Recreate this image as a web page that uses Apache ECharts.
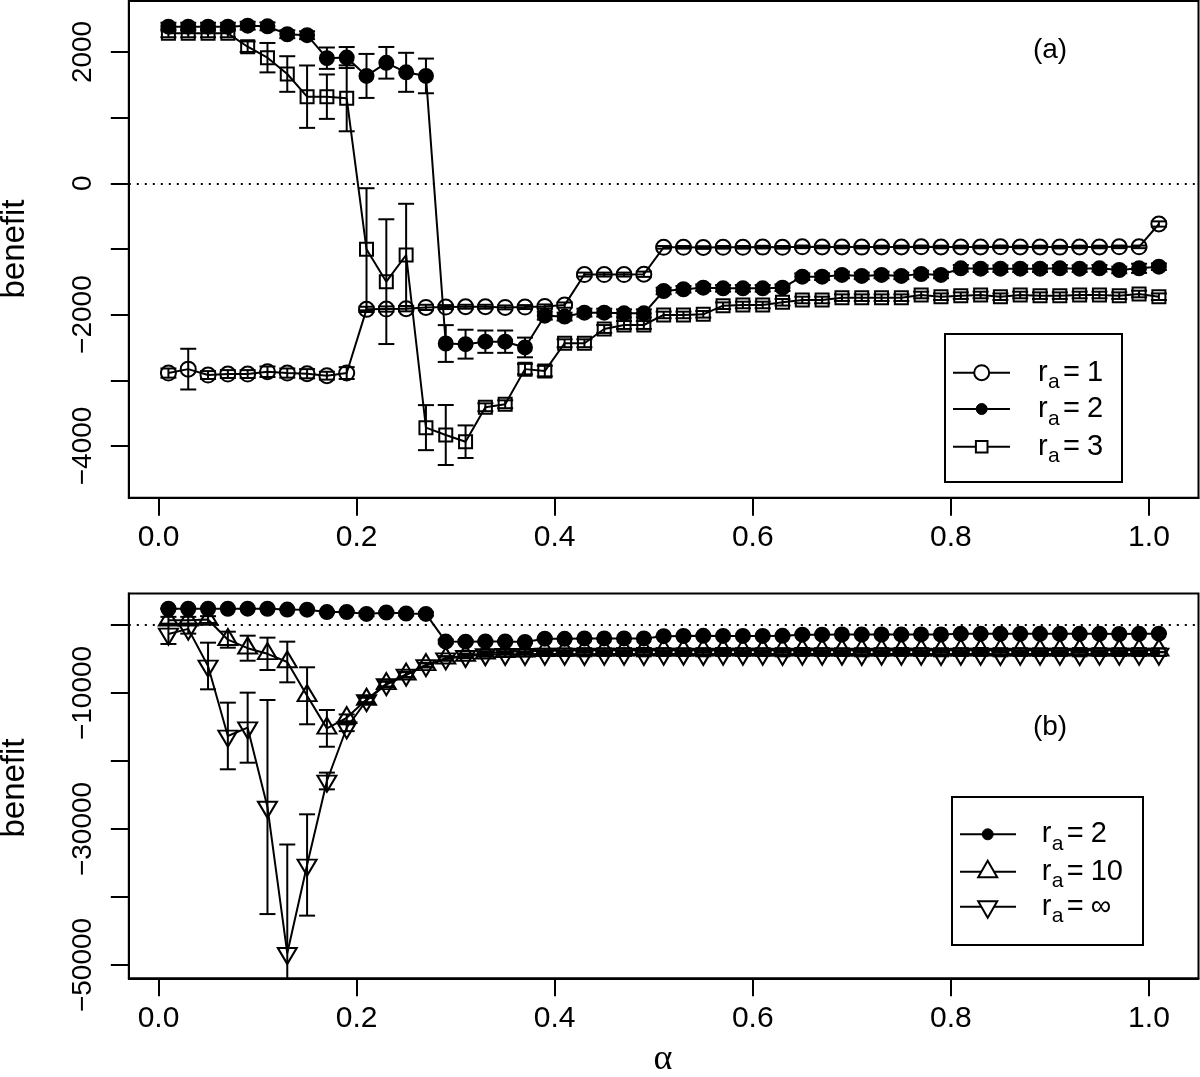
<!DOCTYPE html>
<html>
<head>
<meta charset="utf-8">
<script src="https://cdn.jsdelivr.net/npm/echarts@6/dist/echarts.min.js"></script>
<style>
html,body{margin:0;padding:0;background:#fff;}
#chart{width:1200px;height:1077px;}
</style>
</head>
<body>
<div id="chart"></div>
<script>
// ---------------- DATA ----------------
const alpha = [0.01,0.03,0.05,0.07,0.09,0.11,0.13,0.15,0.17,0.19,
  0.21,0.23,0.25,0.27,0.29,0.31,0.33,0.35,0.37,0.39,
  0.41,0.43,0.45,0.47,0.49,0.51,0.53,0.55,0.57,0.59,
  0.61,0.63,0.65,0.67,0.69,0.71,0.73,0.75,0.77,0.79,
  0.81,0.83,0.85,0.87,0.89,0.91,0.93,0.95,0.97,0.99,1.01];

// panel (a)
const r1 = [-2890,-2830,-2920,-2905,-2905,-2870,-2890,-2900,-2930,-2890,
  -1920,-1915,-1910,-1890,-1885,-1880,-1880,-1890,-1885,-1875,
  -1855,-1390,-1390,-1390,-1385,-975,-975,-978,-975,-975,
  -972,-975,-968,-970,-970,-972,-970,-970,-968,-970,
  -970,-970,-968,-970,-970,-972,-970,-970,-968,-968,-620];
const r1Err = [70,310,60,60,60,80,70,70,60,90,
  40,40,40,40,30,30,30,30,30,30,
  40,30,30,30,40,20,20,20,20,20,
  20,20,20,20,20,20,20,20,20,20,
  20,20,20,20,20,20,20,20,20,20,40];

const r2 = [2385,2385,2385,2385,2400,2390,2270,2255,1905,1915,
  1635,1835,1690,1635,-2440,-2450,-2412,-2412,-2500,-2016,
  -2030,-1970,-1970,-1980,-1980,-1640,-1614,-1590,-1600,-1600,
  -1600,-1590,-1422,-1422,-1396,-1410,-1396,-1410,-1381,-1396,
  -1295,-1300,-1300,-1300,-1300,-1295,-1300,-1295,-1320,-1295,-1270];
const r2Err = [60,60,60,60,60,60,60,60,163,160,
  335,241,297,264,280,220,170,170,150,60,
  60,60,60,60,60,50,50,50,50,50,
  50,50,50,50,50,50,50,50,50,50,
  50,50,50,50,50,50,50,50,50,70,50];

const r3 = [2284,2284,2284,2284,2080,1913,1664,1319,1319,1294,
  -1005,-1498,-1092,-3721,-3833,-3935,-3411,-3365,-2830,-2860,
  -2436,-2436,-2219,-2158,-2158,-2005,-2005,-1995,-1864,-1853,
  -1853,-1812,-1777,-1777,-1742,-1742,-1742,-1742,-1701,-1727,
  -1711,-1701,-1727,-1701,-1711,-1711,-1701,-1701,-1711,-1686,-1727];
const r3Err = [60,60,60,60,80,224,271,475,338,502,
  930,950,780,343,457,248,60,60,80,80,
  60,60,60,60,60,50,50,50,50,50,
  50,50,50,50,50,50,50,50,50,50,
  50,50,50,50,50,50,50,50,50,50,50];

// panel (b)  (r_a = 2 is the same series as in panel (a))
const r10 = [700,700,800,-2160,-3410,-4240,-5440,-10410,-15200,-13650,
  -10950,-8650,-7250,-5850,-4880,-4500,-4150,-3950,-3850,-3800,
  -3750,-3700,-3720,-3700,-3680,-3700,-3720,-3700,-3690,-3700,
  -3710,-3700,-3680,-3700,-3720,-3700,-3700,-3690,-3700,-3710,
  -3700,-3680,-3700,-3700,-3720,-3700,-3690,-3700,-3710,-3700,-3720];
const r10Err = [500,500,500,1176,1840,2380,2990,4190,2700,500,
  400,400,400,300,300,300,300,300,300,300,
  300,300,300,300,300,300,300,300,300,300,
  300,300,300,300,300,300,300,300,300,300,
  300,300,300,300,300,300,300,300,300,300,300];

const rInf = [-1320,-570,-6030,-16320,-15100,-26770,-48280,-35290,-22940,-15110,
  -11100,-8750,-7350,-5950,-4950,-4600,-4350,-4300,-4300,-4250,
  -4250,-4300,-4250,-4250,-4300,-4250,-4250,-4300,-4250,-4250,
  -4250,-4300,-4250,-4250,-4250,-4300,-4250,-4250,-4250,-4300,
  -4250,-4250,-4300,-4250,-4250,-4250,-4300,-4250,-4250,-4250,-4250];
const rInfErr = [1470,700,3430,4900,5150,15740,16000,7450,1230,500,
  400,400,400,300,300,300,300,300,300,300,
  300,300,300,300,300,300,300,300,300,300,
  300,300,300,300,300,300,300,300,300,300,
  300,300,300,300,300,300,300,300,300,300,300];

const xTicks = [0, 0.2, 0.4, 0.6, 0.8, 1.0];
const yTicksA = [-4000,-3000,-2000,-1000,0,1000,2000];
const yLabelsA = [-4000,-2000,0,2000];
const yTicksB = [-50000,-40000,-30000,-20000,-10000,0];
const yLabelsB = [-50000,-30000,-10000];

// ---------------- CHART ----------------
const FONT = "'Liberation Sans', Arial, Helvetica, sans-serif";
const chart = echarts.init(document.getElementById('chart'), null, {renderer:'canvas'});

const pts = (ys) => alpha.map((a,i)=>[a, ys[i]]);
const bars = (ys, es) => alpha.map((a,i)=>[a, ys[i]-es[i], ys[i]+es[i]]);
const minusFmt = v => (v < 0 ? '\u2212' + Math.abs(v) : String(v));

function errRender(params, api){
  const x = api.value(0), lo = api.value(1), hi = api.value(2);
  const cs = params.coordSys;
  const pTop = api.coord([x, hi]), pBot = api.coord([x, lo]);
  const yMin = cs.y, yMax = cs.y + cs.height;
  const ty = Math.max(pTop[1], yMin), by = Math.min(pBot[1], yMax);
  const st = {stroke:'#000', lineWidth:2};
  const ch = [{type:'line', shape:{x1:pTop[0], y1:ty, x2:pTop[0], y2:by}, style:st}];
  const hw = 8;
  if (pTop[1] >= yMin) ch.push({type:'line', shape:{x1:pTop[0]-hw, y1:pTop[1], x2:pTop[0]+hw, y2:pTop[1]}, style:st});
  if (pBot[1] <= yMax) ch.push({type:'line', shape:{x1:pBot[0]-hw, y1:pBot[1], x2:pBot[0]+hw, y2:pBot[1]}, style:st});
  return {type:'group', children: ch};
}

function errSeries(ys, es, gi){
  return {type:'custom', xAxisIndex:gi, yAxisIndex:gi, data: bars(ys, es),
    renderItem: errRender, encode:{x:0, y:[1,2]}, silent:true, z:3};
}

function lineSeries(ys, gi, symbol, size, filled, extra){
  return Object.assign({
    type:'line', xAxisIndex:gi, yAxisIndex:gi, data: pts(ys),
    symbol: symbol, symbolSize: size, showSymbol:true, showAllSymbol:true,
    lineStyle:{color:'#000', width:2},
    itemStyle:{color: filled ? '#000' : 'rgba(0,0,0,0)', borderColor:'#000', borderWidth:2},
    emphasis:{disabled:true}, silent:true, z:4
  }, extra || {});
}

const zeroLine = {silent:true, symbol:['none','none'], label:{show:false},
  lineStyle:{color:'#000', type:[2,6], width:2}, data:[{yAxis:0}], animation:false};

function xAxisDef(gi){
  return {type:'value', gridIndex:gi, min:-0.03, max:1.05,
    axisLine:{show:true, onZero:false, lineStyle:{color:'#000', width:2}},
    axisTick:{show:true, customValues: xTicks, length:18, lineStyle:{color:'#000', width:2}},
    axisLabel:{show:true, customValues: xTicks, formatter: v => v.toFixed(1), color:'#000',
      fontFamily: FONT, fontSize:30, margin:25},
    splitLine:{show:false}};
}
function yAxisDef(gi, min, max, ticks, labels){
  return {type:'value', gridIndex:gi, min:min, max:max,
    axisLine:{show:true, onZero:false, lineStyle:{color:'#000', width:2}},
    axisTick:{show:true, customValues: ticks, length:18, lineStyle:{color:'#000', width:2}},
    axisLabel:{show:true, customValues: labels, formatter: minusFmt, rotate:90, color:'#000',
      fontFamily: FONT, fontSize:28, margin:32},
    splitLine:{show:false}};
}

const option = {
  animation:false,
  backgroundColor:'#fff',
  grid:[
    {left:128.8, top:1, width:1069.7, height:496.7, show:true, borderColor:'#000', borderWidth:2},
    {left:128.8, top:593.5, width:1069.7, height:384.8, show:true, borderColor:'#000', borderWidth:2}
  ],
  xAxis:[xAxisDef(0), xAxisDef(1)],
  yAxis:[yAxisDef(0, -4788, 2776, yTicksA, yLabelsA), yAxisDef(1, -51956, 4632, yTicksB, yLabelsB)],
  series:[
    // panel (a)
    errSeries(r1, r1Err, 0), errSeries(r2, r2Err, 0), errSeries(r3, r3Err, 0),
    lineSeries(r1, 0, 'circle', 15, false, {markLine: zeroLine}),
    lineSeries(r2, 0, 'circle', 14, true),
    lineSeries(r3, 0, 'rect', 13, false),
    // panel (b)
    errSeries(r2, r2Err, 1), errSeries(r10, r10Err, 1), errSeries(rInf, rInfErr, 1),
    lineSeries(r2, 1, 'circle', 14, true, {markLine: zeroLine}),
    lineSeries(r10, 1, 'triangle', [19,16], false, {symbolOffset:[0,-2.7]}),
    lineSeries(rInf, 1, 'triangle', [19,16], false, {symbolRotate:180, symbolOffset:[0,2.7]})
  ],
  graphic: buildGraphics()
};

function txt(x, y, s, size, align){
  return {type:'text', x:x, y:y, z:22, silent:true,
    style:{text:s, fontFamily:FONT, fontSize:size, fill:'#000', align:align || 'left', verticalAlign:'middle'}};
}
function legendText(x, y, val){
  return [txt(x, y, 'r', 29), txt(x + 10, y + 10, 'a', 21), txt(x + 25, y, '=', 29), txt(x + 49, y, val, 29)];
}
function hline(x1, x2, y){
  return {type:'line', z:20, silent:true, shape:{x1:x1, y1:y, x2:x2, y2:y}, style:{stroke:'#000', lineWidth:2}};
}
function triUp(cx, cy, r){
  const w = r*Math.sqrt(3)/2;
  return {type:'polygon', z:21, silent:true, shape:{points:[[cx, cy-r],[cx+w, cy+r/2],[cx-w, cy+r/2]]}, style:{fill:'#fff', stroke:'#000', lineWidth:2}};
}
function triDown(cx, cy, r){
  const w = r*Math.sqrt(3)/2;
  return {type:'polygon', z:21, silent:true, shape:{points:[[cx, cy+r],[cx+w, cy-r/2],[cx-w, cy-r/2]]}, style:{fill:'#fff', stroke:'#000', lineWidth:2}};
}

function buildGraphics(){
  let g = [];
  // panel labels
  g.push(txt(1050, 50, '(a)', 28, 'center'));
  g.push(txt(1050, 727, '(b)', 28, 'center'));
  // axis titles
  g.push({type:'text', x:15, y:249, rotation:Math.PI/2, z:20, silent:true, style:{text:'benefit', fontFamily:FONT, fontSize:33, fill:'#000', align:'center', verticalAlign:'middle'}});
  g.push({type:'text', x:15, y:788, rotation:Math.PI/2, z:20, silent:true, style:{text:'benefit', fontFamily:FONT, fontSize:33, fill:'#000', align:'center', verticalAlign:'middle'}});
  g.push({type:'text', x:663, y:1060, z:20, silent:true, style:{text:'\u03b1', fontFamily:"'Liberation Serif', 'DejaVu Serif', serif", fontSize:36, fill:'#000', align:'center', verticalAlign:'middle'}});

  // legend (a)
  g.push({type:'rect', z:19, silent:true, shape:{x:945, y:334, width:177, height:148}, style:{fill:'#fff', stroke:'#000', lineWidth:2}});
  const rowsA = [372.7, 409, 446.7];
  rowsA.forEach(y => g.push(hline(953, 1010, y)));
  g.push({type:'circle', z:21, silent:true, shape:{cx:981.7, cy:rowsA[0], r:7.5}, style:{fill:'#fff', stroke:'#000', lineWidth:2}});
  g.push({type:'circle', z:21, silent:true, shape:{cx:981.7, cy:rowsA[1], r:5.5}, style:{fill:'#000', stroke:'#000', lineWidth:1}});
  g.push({type:'rect', z:21, silent:true, shape:{x:975.9, y:rowsA[2]-5.8, width:11.6, height:11.6}, style:{fill:'#fff', stroke:'#000', lineWidth:2}});
  g = g.concat(legendText(1038, rowsA[0], '1'), legendText(1038, rowsA[1], '2'), legendText(1038, rowsA[2], '3'));

  // legend (b)
  g.push({type:'rect', z:19, silent:true, shape:{x:952, y:797, width:191, height:148}, style:{fill:'#fff', stroke:'#000', lineWidth:2}});
  const rowsB = [834.3, 871.7, 906.7];
  rowsB.forEach(y => g.push(hline(960, 1016, y)));
  g.push({type:'circle', z:21, silent:true, shape:{cx:987.7, cy:rowsB[0], r:5.5}, style:{fill:'#000', stroke:'#000', lineWidth:1}});
  g.push(triUp(987.7, rowsB[1], 11));
  g.push(triDown(987.7, rowsB[2], 11));
  g = g.concat(legendText(1041.7, rowsB[0], '2'), legendText(1041.7, rowsB[1], '10'), legendText(1041.7, rowsB[2], '\u221e'));
  return g;
}

chart.setOption(option);
</script>
</body>
</html>
